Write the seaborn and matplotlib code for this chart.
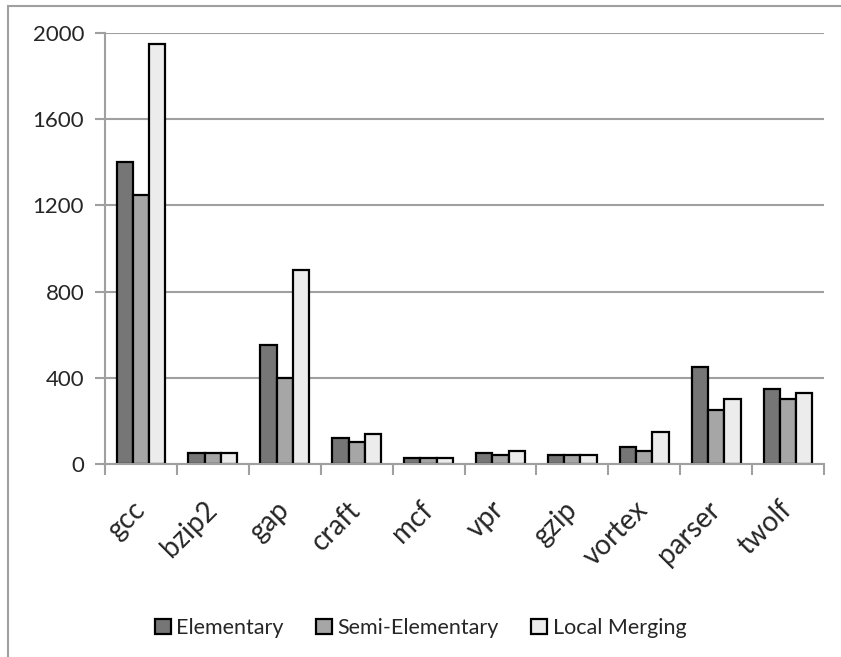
import matplotlib
matplotlib.use("Agg")
import matplotlib.pyplot as plt
import matplotlib.patches as mpatches
import numpy as np
import pandas as pd
import seaborn as sns

# Benchmarks and values
benchmarks = ["gcc", "bzip2", "gap", "craft", "mcf", "vpr", "gzip", "vortex", "parser", "twolf"]
elementary = [1400, 50, 550, 120, 30, 50, 40, 80, 450, 350]
semi_elementary = [1250, 50, 400, 100, 30, 40, 40, 60, 250, 300]
local_merging = [1950, 50, 900, 140, 30, 60, 40, 150, 300, 330]
series_names = ["Elementary", "Semi-Elementary", "Local Merging"]
colors = ["#767676", "#a6a6a6", "#ececec"]
yticks = [0, 400, 800, 1200, 1600, 2000]

df = pd.DataFrame({
    "benchmark": benchmarks * 3,
    "value": elementary + semi_elementary + local_merging,
    "series": [series_names[0]] * 10 + [series_names[1]] * 10 + [series_names[2]] * 10,
})

sns.set_style("white")
plt.rcParams["font.family"] = ["Lato", "DejaVu Sans"]

fig = plt.figure(figsize=(8.41, 6.57), dpi=100)
ax = fig.add_axes([105 / 841, 1 - 464 / 657, (824 - 105) / 841, (464 - 33) / 657])

sns.barplot(data=df, x="benchmark", y="value", hue="series", palette=colors,
            width=0.68, edgecolor="black", linewidth=1.6, ax=ax, legend=False,
            saturation=1)

ax.set_ylim(0, 2000)
ax.set_xlim(-0.5, len(benchmarks) - 0.5)
ax.set_yticks(yticks)
ax.set_yticklabels([str(v) for v in yticks], fontsize=16)
ax.yaxis.grid(True, color="#a0a0a0", linewidth=1.5)
ax.set_axisbelow(True)
ax.set_xlabel("")
ax.set_ylabel("")

for s in ["top", "right"]:
    ax.spines[s].set_visible(False)
for s in ["left", "bottom"]:
    ax.spines[s].set_color("#a0a0a0")
    ax.spines[s].set_linewidth(1.5)

ax.tick_params(axis="y", length=7, width=1.5, color="#a0a0a0", direction="out", pad=8, left=True)
ax.set_xticks(np.arange(len(benchmarks)))
ax.set_xticklabels(benchmarks, rotation=45, ha="right", va="center",
                   rotation_mode="anchor", fontsize=20)
ax.tick_params(axis="x", which="major", length=0, pad=30)
ax.set_xticks(np.arange(len(benchmarks) + 1) - 0.5, minor=True)
ax.tick_params(axis="x", which="minor", length=8, width=1.5, color="#a0a0a0",
               direction="out", bottom=True)

handles = [mpatches.Patch(facecolor=c, edgecolor="black", linewidth=1.6, label=n)
           for c, n in zip(colors, series_names)]
fig.legend(handles=handles, loc="center", bbox_to_anchor=(0.5, 1 - 628 / 657),
           ncol=3, frameon=False, fontsize=15.5, handlelength=0.75, handleheight=0.75,
           handletextpad=0.25, columnspacing=1.5)

# chart area border
fig.add_artist(mpatches.Rectangle((8 / 841, -0.1), 1.2, 1 - 6 / 657 + 0.1,
                                  transform=fig.transFigure, fill=False,
                                  edgecolor="#a0a0a0", linewidth=1.5))

fig.savefig("out.png", dpi=100)
